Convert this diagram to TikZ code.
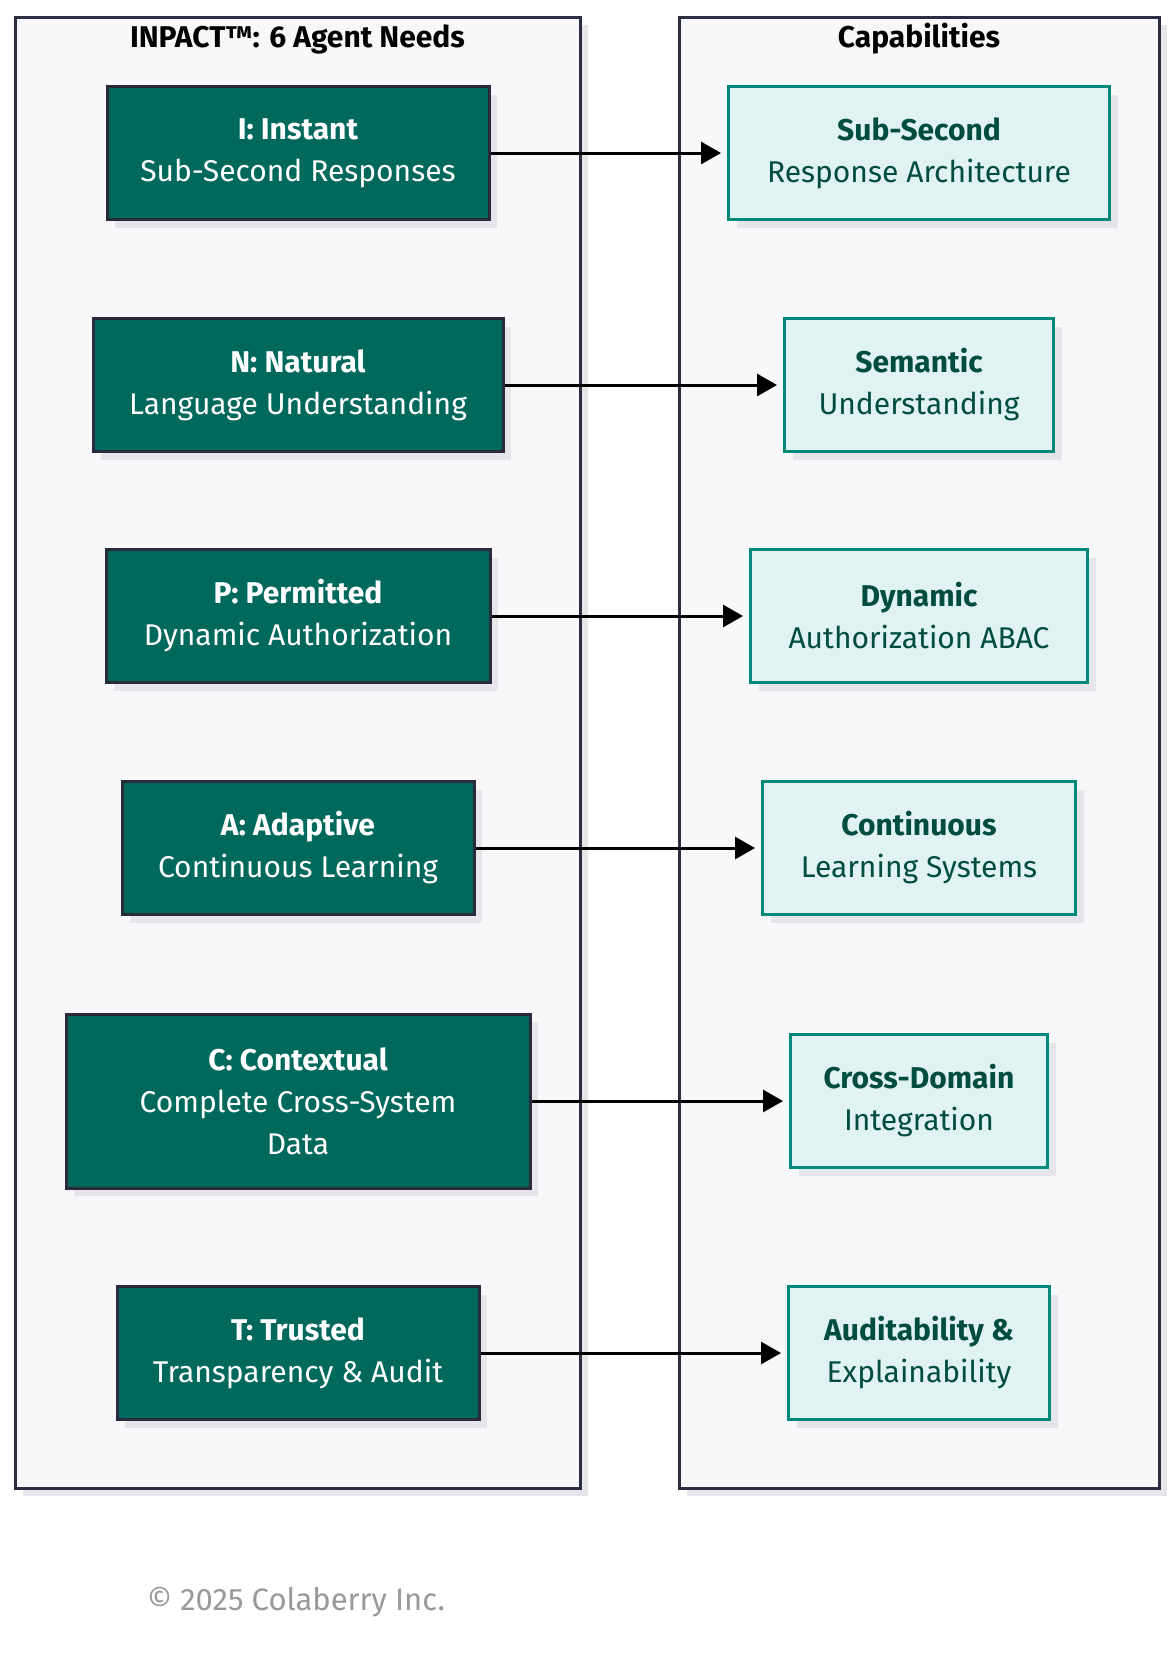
\documentclass[tikz,border=0pt]{standalone}
\usepackage{fontspec}
\setmainfont{Fira Sans}
\usetikzlibrary{arrows.meta, positioning, shadows}
\definecolor{needfill}{HTML}{00695C}
\definecolor{needdraw}{HTML}{2B2A3D}
\definecolor{capfill}{HTML}{E0F2F1}
\definecolor{capdraw}{HTML}{00897B}
\definecolor{captext}{HTML}{004D40}
\definecolor{panelfill}{HTML}{F8F8FB}
\definecolor{paneldraw}{HTML}{2B2D42}
\definecolor{shadowcolor}{HTML}{E6E6EA}
\definecolor{notegray}{HTML}{999999}
\newcommand{\boxfont}{\fontsize{30}{42}\selectfont}
\newcommand{\notefont}{\fontsize{31}{36}\selectfont}

\begin{document}
\begin{tikzpicture}[x=1pt, y=-1pt,
    boxshadow/.style={drop shadow={shadow xshift=8pt, shadow yshift=-8pt, fill=shadowcolor, opacity=1}},
    panel/.style={draw=paneldraw, fill=panelfill, line width=3pt, boxshadow},
    paneltitle/.style={font=\boxfont\bfseries, text=black},
    need/.style={draw=needdraw, fill=needfill, text=white, line width=3pt, minimum height=133pt, align=center, font=\boxfont, boxshadow},
    capability/.style={draw=capdraw, fill=capfill, text=captext, line width=3pt, minimum height=133pt, align=center, font=\boxfont, boxshadow},
    flow/.style={-{Triangle[length=20pt, width=22pt]}, line width=3pt, shorten >=6pt}]
    % Page
    \fill[white] (0,0) rectangle (1175,1666);
    \useasboundingbox (0,0) rectangle (1175,1666);

    % Panels
    \node[panel, minimum width=565pt, minimum height=1471pt] (needpanel) at (297.5,752.5) {};
    \node[panel, minimum width=480pt, minimum height=1471pt] (cappanel) at (919,752.5) {};
    \node[paneltitle] (needtitle) at (297.5,39) {INPACT™: 6 Agent Needs};
    \node[paneltitle] (captitle) at (919,39) {Capabilities};

    % Agent needs
    \node[need, minimum width=382pt] (instant) at (298,153) {{\bfseries I: Instant}\\Sub-Second Responses};
    \node[need, minimum width=410pt] (natural) at (298,385) {{\bfseries N: Natural}\\Language Understanding};
    \node[need, minimum width=384pt] (permitted) at (298,616) {{\bfseries P: Permitted}\\Dynamic Authorization};
    \node[need, minimum width=352pt] (adaptive) at (298,848) {{\bfseries A: Adaptive}\\Continuous Learning};
    \node[need, minimum width=464pt, minimum height=174pt] (contextual) at (298,1101) {{\bfseries C: Contextual}\\Complete Cross-System\\Data};
    \node[need, minimum width=362pt] (trusted) at (298,1353) {{\bfseries T: Trusted}\\Transparency \& Audit};

    % Capabilities
    \node[capability, minimum width=381pt] (subsecond) at (919,153) {{\bfseries Sub-Second}\\Response Architecture};
    \node[capability, minimum width=269pt] (semantic) at (919,385) {{\bfseries Semantic}\\Understanding};
    \node[capability, minimum width=337pt] (dynamic) at (919,616) {{\bfseries Dynamic}\\Authorization ABAC};
    \node[capability, minimum width=313pt] (continuous) at (919,848) {{\bfseries Continuous}\\Learning Systems};
    \node[capability, minimum width=257pt] (crossdomain) at (919,1101) {{\bfseries Cross-Domain}\\Integration};
    \node[capability, minimum width=261pt] (auditability) at (919,1353) {{\bfseries Auditability \&}\\Explainability};

    % Mappings
    \draw[flow] (instant.east) -- (subsecond.west);
    \draw[flow] (natural.east) -- (semantic.west);
    \draw[flow] (permitted.east) -- (dynamic.west);
    \draw[flow] (adaptive.east) -- (continuous.west);
    \draw[flow] (contextual.east) -- (crossdomain.west);
    \draw[flow] (trusted.east) -- (auditability.west);

    % Footer
    \node[font=\notefont, text=notegray] (copyright) at (296,1602) {© 2025 Colaberry Inc.};
\end{tikzpicture}
\end{document}
